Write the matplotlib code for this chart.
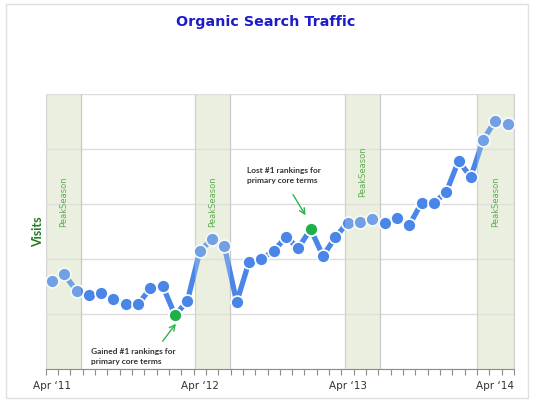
import matplotlib
matplotlib.use('Agg')
import matplotlib.pyplot as plt
import numpy as np
from matplotlib.patches import Rectangle

# monthly visits, Apr 2011 .. May 2014
visits = [1595, 1722, 1424, 1351, 1387, 1273, 1176, 1176, 1473, 1509,
          976, 1242, 2140, 2369, 2231, 1218, 1951, 2005, 2151, 2400,
          2205, 2545, 2060, 2395, 2667, 2685, 2733, 2649, 2758, 2618,
          3024, 3024, 3218, 3787, 3496, 4176, 4522, 4455]
year_labels = ["Apr \u201811", "Apr \u201812", "Apr \u201813", "Apr \u201814"]
year_idx = [0, 12, 24, 36]
# peak season spans (in month slots)
peak_spans = [(0, 2.85), (12.15, 14.95), (24.25, 27.15), (35.0, 38.0)]
peak_text_y = [3050, 3050, 3600, 3050]
highlight_idx = [10, 21]

BLUE = '#4a86e8'
BAND = '#eaefdf'
GREEN_PT = '#1fb04a'

fig = plt.figure(figsize=(5.34, 4.05), dpi=100)
ax = fig.add_axes([0.0856, 0.0889, 0.8769, 0.6781])

n = len(visits)
x = np.arange(n) + 0.5

# bands under the line
for s, e in peak_spans:
    ax.axvspan(s, e, color=BAND, zorder=0, lw=0)
    ax.axvline(s, color='#c9c9c9', lw=0.9, zorder=1)
    ax.axvline(e, color='#c9c9c9', lw=0.9, zorder=1)

ax.set_axisbelow(True)
ax.yaxis.grid(True, color='#dcdcdc', lw=1)

ax.plot(x, visits, color=BLUE, lw=3.8, zorder=2, solid_capstyle='butt')
ax.plot(x, visits, 'o', ms=9.3, mfc=BLUE, mec='white', mew=1.2, zorder=3)
hx = [x[i] for i in highlight_idx]
hy = [visits[i] for i in highlight_idx]
ax.plot(hx, hy, 'o', ms=9.3, mfc=GREEN_PT, mec='white', mew=1.2, zorder=4)

# translucent band on top (points inside look lighter)
for k, (s, e) in enumerate(peak_spans):
    ax.axvspan(s, e, color=BAND, alpha=0.25, zorder=5, lw=0)
    ax.text((s + e) / 2, peak_text_y[k], 'PeakSeason',
            rotation=90, ha='center', va='center', fontsize=6,
            color='#5fae4f', zorder=6)

ax.set_xlim(0, n)
ax.set_ylim(0, 5000)
ax.set_yticks(np.arange(0, 5001, 1000))
ax.set_yticklabels([])
ax.tick_params(axis='y', length=0)

ax.set_xticks([x[i] for i in year_idx])
ax.set_xticklabels(year_labels, fontsize=7.5, color='#333333')
ax.set_xticks(np.arange(0, n + 1), minor=True)
ax.tick_params(axis='x', which='major', length=0, pad=9)
ax.tick_params(axis='x', which='minor', length=4, color='#8c8c8c', width=0.8)

ax.spines['top'].set_visible(False)
ax.spines['left'].set_color('#d0d0d0')
ax.spines['right'].set_color('#d0d0d0')
ax.spines['bottom'].set_color('#8c8c8c')

# annotations
ax.annotate('', xy=(10.7, 865), xytext=(9.35, 465),
            arrowprops=dict(arrowstyle='->', color='#2db34a', lw=1.0))
ax.text(3.7, 236, 'Gained #1 rankings for\nprimary core terms', fontsize=6,
        fontweight='bold', color='#333333', ha='left', va='center',
        family='Lato', linespacing=1.5)
ax.annotate('', xy=(21.2, 2755), xytext=(19.95, 3220),
            arrowprops=dict(arrowstyle='->', color='#2db34a', lw=1.0))
ax.text(16.3, 3520, 'Lost #1 rankings for\nprimary core terms', fontsize=6,
        fontweight='bold', color='#333333', ha='left', va='center',
        family='Lato', linespacing=1.5)

fig.text(0.0708, 0.428, 'Visits', rotation=90, ha='center', va='center',
         fontsize=9, fontweight='bold', color='#1e7c1e', family='Lato')
fig.text(0.4978, 0.946, 'Organic Search Traffic', ha='center', va='center',
         fontsize=10.3, fontweight='bold', color='#1c1cc8')

fig.patches.append(Rectangle((0.0112, 0.0173), 0.9775, 0.973,
                             transform=fig.transFigure, fill=False,
                             edgecolor='#e0e0e0', lw=1))

fig.savefig('out.png', dpi=100)
